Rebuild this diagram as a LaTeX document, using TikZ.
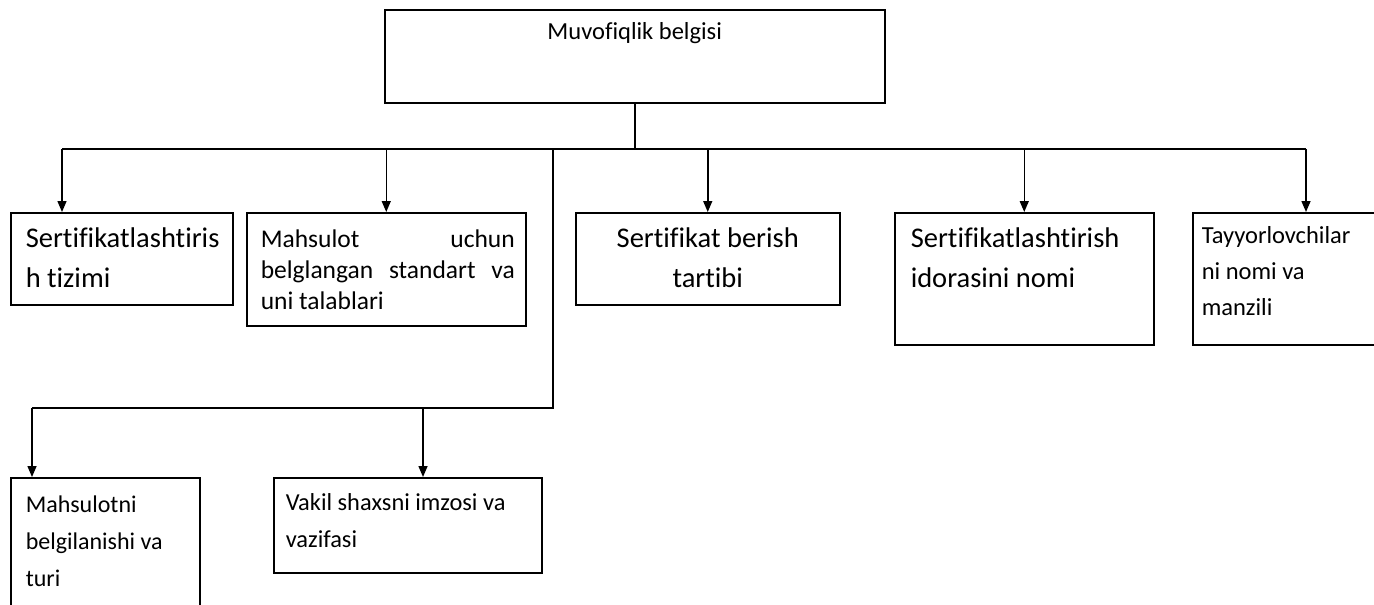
\documentclass[tikz,border=0pt]{standalone}
\usepackage{fontspec}
\setmainfont{Carlito}[RawFeature={-liga}]
\usetikzlibrary{arrows.meta}
\hfuzz=60pt \hbadness=10000 \vbadness=10000 \vfuzz=60pt
% #1 width, #2 height, #3 left padding, #4 first baseline from top,
% #5 font size, #6 line spacing, #7 alignment setup, #8 text
\newcommand\celltext[8]{%
  \parbox[t][#2pt][t]{#1pt}{\fontsize{#5pt}{#6pt}\selectfont
    \parindent=0pt\leftskip=#3pt\rightskip=0pt plus 1fil\relax
    #7\rule{0pt}{#4pt}#8\par}}
\begin{document}
\begin{tikzpicture}[x=1pt,y=-1pt,
  box/.style={draw, line width=1.5pt, inner sep=0pt, anchor=north west},
  link/.style={line width=1.5pt},
  arr/.style={line width=1.5pt, -{Triangle[length=11pt,width=9pt]}}]
\useasboundingbox (0,0) rectangle (1374,605);
\clip (0,0) rectangle (1374,605);

% root
\node[box] (top) at (384,9)
  {\celltext{500}{93}{0}{30}{24.5}{29}{\centering}{Muvofiqlik belgisi}};

% first row
\node[box] (b1) at (10,212)
  {\celltext{222}{92}{15}{35}{28.5}{40}{}{Sertifikatlashtiris\\h tizimi}};
\node[box] (b2) at (246,212)
  {\celltext{279}{113}{14}{35}{25.5}{31}{\rightskip=11pt}%
    {Mahsulot\hfill uchun\\belglangan\hfill standart\hfill va\\uni talablari}};
\node[box] (b3) at (575,212)
  {\celltext{264}{92}{0}{35}{28.5}{40}{\centering}{Sertifikat berish\\tartibi}};
\node[box] (b4) at (894,212)
  {\celltext{259}{132}{16}{35}{28.5}{40}{}{Sertifikatlashtirish\\idorasini nomi}};
\node[box] (b5) at (1192,212)
  {\celltext{220}{132}{9}{31}{24.5}{36}{}{Tayyorlovchilar\\ni nomi va\\manzili}};

% second row
\node[box] (b6) at (10,477)
  {\celltext{189}{150}{15}{35}{24}{37}{}{Mahsulotni\\belgilanishi va\\turi}};
\node[box] (b7) at (273,477)
  {\celltext{268}{95}{12}{33}{24.4}{37}{}{Vakil shaxsni imzosi va\\vazifasi}};

% bus lines
\coordinate (busL) at (62,149);
\coordinate (busR) at (1306,149);
\coordinate (tap) at (553,149);
\coordinate (elbow) at (553,408);
\coordinate (lowL) at (32,408);
\coordinate (lowM) at (423,408);

\draw[link] (top.south) -- (top.south |- busL);
\draw[link] (busL) -- (busR);
\draw[arr] (busL) -- (busL |- b1.north);
\draw[arr] (b2.north |- busL) -- (b2.north);
\draw[arr] (b3.north |- busL) -- (b3.north);
\draw[arr] (b4.north |- busL) -- (b4.north);
\draw[arr] (busR) -- (busR |- b5.north);
\draw[link] (tap) -- (elbow) -- (lowL);
\draw[arr] (lowL) -- (lowL |- b6.north);
\draw[arr] (lowM) -- (lowM |- b7.north);
\end{tikzpicture}
\end{document}
